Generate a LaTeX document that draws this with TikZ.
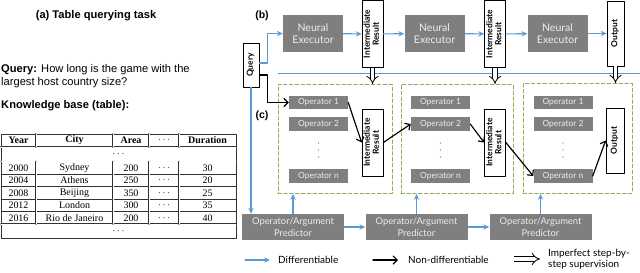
\documentclass[tikz,border=0pt]{standalone}
\usepackage{fontspec}
\usepackage{graphicx}
\setmainfont{Liberation Sans}
\newfontfamily\tabfont{Liberation Serif}
\newfontfamily\diafont{Lato}
\usetikzlibrary{arrows.meta}
\definecolor{bluearr}{HTML}{5B9BD5}
\definecolor{boxgray}{HTML}{7F7F7F}
\definecolor{dashgreen}{HTML}{8FAE5A}
\newcommand{\rottext}[1]{\rotatebox{90}{\begin{tabular}{@{}c@{}}#1\end{tabular}}}
\begin{document}
\begin{tikzpicture}[x=0.3mm, y=-0.3mm, line join=round, line cap=round, >={Stealth[length=5pt, width=4.5pt]},
graybox/.style={fill=boxgray, text=white!93!black, inner sep=0pt, align=center},
opbox/.style={graybox, minimum width=17.7mm, minimum height=4.05mm, font=\diafont\fontsize{7.2}{8}\selectfont},
vbox/.style={draw, fill=white, inner sep=0pt, line width=0.6pt, font=\diafont\bfseries\fontsize{7.2}{7.8}\selectfont},
dbox/.style={draw=dashgreen, dash pattern=on 3pt off 2pt, line width=0.8pt},
barrow/.style={->, draw=bluearr, line width=1pt},
karrow/.style={-{Straight Barb[length=3.5pt, width=7pt]}, line width=1pt},
hollow/.style={double, double distance=3pt, line width=0.7pt, line cap=butt, -{Implies}},
tline/.style={draw=black!80, line width=0.4pt},
lab/.style={font=\bfseries\fontsize{9}{10}\selectfont, inner sep=0pt},
legtext/.style={font=\diafont\fontsize{8.5}{9}\selectfont, inner sep=0pt, anchor=west, align=left}]
\useasboundingbox (0,0) rectangle (640,272);
%Phần (a)
\node[font=\bfseries\fontsize{9.5}{11}\selectfont, anchor=base, inner sep=0pt] (ta) at (96,18) {(a) Table querying task};
\node[font=\fontsize{9.5}{13}\selectfont, anchor=base west, inner sep=0pt] (tq1) at (1,72) {\textbf{Query:} How long is the game with the};
\node[font=\fontsize{9.5}{13}\selectfont, anchor=base west, inner sep=0pt] (tq2) at (1,85) {largest host country size?};
\node[font=\bfseries\fontsize{9.5}{11}\selectfont, anchor=base west, inner sep=0pt] (tk) at (1,108) {Knowledge base (table):};
%Vẽ bảng
\draw[tline, line width=0.6pt] (1,134) rectangle (236,238);
\foreach \y in {174,186.5,199,211.5} \draw[tline] (1,\y) -- (236,\y);
\foreach \y in {147,161.5,224} \draw[tline, double, double distance=0.5pt] (1,\y) -- (236,\y);
\foreach \x in {36,113,149,179} \draw[tline, double, double distance=0.5pt] (\x,134) -- (\x,147) (\x,161.5) -- (\x,224);
\begin{scope}[font=\tabfont\fontsize{8.5}{10}\selectfont, every node/.style={inner sep=0pt}]
\foreach \x/\t/\n in {18.5/Year/h1,74.5/City/h2,131/Area/h3,207.5/Duration/h5}
\node (\n) at (\x,140.5) {\textbf{\t}};
\node (h4) at (164,140.5) {$\cdots$};
\node (d1) at (118.5,154.5) {$\cdots$};
\node (d2) at (118.5,231) {$\cdots$};
\foreach \y/\a/\b/\c/\d in {168/2000/Sydney/200/30,180.5/2004/Athens/250/20,193/2008/Beijing/350/25,205.5/2012/London/300/35,218/2016/Rio de Janeiro/200/40}{
\node (yr\a) at (18.5,\y) {\a};
\node (ct\a) at (74.5,\y) {\b};
\node (ar\a) at (131,\y) {\c};
\node (dt\a) at (164,\y) {$\cdots$};
\node (du\a) at (207.5,\y) {\d};
}
\end{scope}
%Phần (b)
\node[lab] (lb) at (262,16) {(b)};
\node[vbox, minimum width=4.8mm, minimum height=13.2mm] (q) at (251,65) {\rottext{Query}};
\foreach \i/\x in {1/313,2/434.5,3/557.5}
\node[graybox, minimum width=18mm, minimum height=11.1mm, font=\diafont\fontsize{9}{10.5}\selectfont] (ne\i) at (\x,33.5) {Neural\\Executor};
\node[vbox, minimum width=6.3mm, minimum height=20.1mm] (ir1) at (372.5,34) {\rottext{Intermediate\\Result}};
\node[vbox, minimum width=6.3mm, minimum height=20.1mm] (ir2) at (495,34) {\rottext{Intermediate\\Result}};
\node[vbox, minimum width=5.1mm, minimum height=19.5mm] (out) at (615.5,33.5) {\rottext{Output}};
\draw[barrow] ([yshift=0.6mm]q.east) -- ++(8,0) |- (ne1);
\draw[barrow] (ne1) -- (ir1);
\draw[barrow] (ir1) -- (ne2);
\draw[barrow] (ne2) -- (ir2);
\draw[barrow] (ir2) -- (ne3);
\draw[barrow] (ne3) -- (out);
\draw[draw=bluearr, line width=0.8pt] (278,73) -- (640,73);
%Phần (c)
\node[lab] (lc) at (262,115.5) {(c)};
\node[dbox, minimum width=34.2mm, minimum height=32.7mm] (b1) at (335,139) {};
\node[dbox, minimum width=33.6mm, minimum height=32.7mm] (b2) at (457,139) {};
\node[dbox, minimum width=32.7mm, minimum height=33mm] (b3) at (577.5,138.5) {};
\foreach \b/\x in {1/318.5,2/440.5,3/563}{
\node[opbox] (op\b1) at (\x,102.5) {Operator 1};
\node[opbox] (op\b2) at (\x,124) {Operator 2};
\foreach \y in {143,150,157} \fill[black!60] (\x,\y) circle (0.6pt);
\node[opbox] (opn\b) at (\x,176) {Operator n};
}
\node[vbox, minimum width=6.3mm, minimum height=20.1mm] (mir1) at (372.5,142.5) {\rottext{Intermediate\\Result}};
\node[vbox, minimum width=6.3mm, minimum height=20.1mm] (mir2) at (495,142.5) {\rottext{Intermediate\\Result}};
\node[vbox, minimum width=5.4mm, minimum height=19.5mm] (mout) at (615,140.5) {\rottext{Output}};
\draw[hollow] (ir1.south) -- (ir1.south |- b1.north);
\draw[hollow] (ir2.south) -- (ir2.south |- b2.north);
\draw[hollow] (out.south) -- (out.south |- b3.north);
\draw[karrow] ([yshift=-3mm]q.east) -- ++(8,0) |- (op11);
\draw[karrow] (op11.east) -- (mir1.west);
\draw[karrow] (mir1.east) -- (op22.west);
\draw[karrow] (op22.east) -- (mir2.west);
\draw[karrow] (mir2.east) -- (opn3.west);
\draw[karrow] (opn3.east) -- (mout.west);
%Bộ dự đoán
\foreach \i/\x in {1/293,2/416.5,3/540.5}{
\node[graybox, minimum width=30.6mm, minimum height=7.8mm, font=\diafont\fontsize{8}{10}\selectfont] (oap\i) at (\x,227) {Operator/Argument\\Predictor};
\draw[barrow] (oap\i.north) -- (oap\i.north |- b\i.south);
}
\draw[barrow] (q.south) -- (q.south |- oap1.north);
\draw[barrow] (oap1) -- (oap2);
\draw[barrow] (oap2) -- (oap3);
%Chú thích
\coordinate (l1a) at (245,260); \coordinate (l1b) at (270,260);
\coordinate (l2a) at (373,260); \coordinate (l2b) at (398,260);
\coordinate (l3a) at (514,259); \coordinate (l3b) at (540,259);
\draw[barrow] (l1a) -- (l1b);
\draw[karrow] (l2a) -- (l2b);
\draw[hollow] (l3a) -- (l3b);
\node[legtext] (t1) at (278,260) {Differentiable};
\node[legtext] (t2) at (408,260) {Non-differentiable};
\node[legtext] (t3) at (548,259) {Imperfect step-by-\\step supervision};
\end{tikzpicture}
\end{document}
